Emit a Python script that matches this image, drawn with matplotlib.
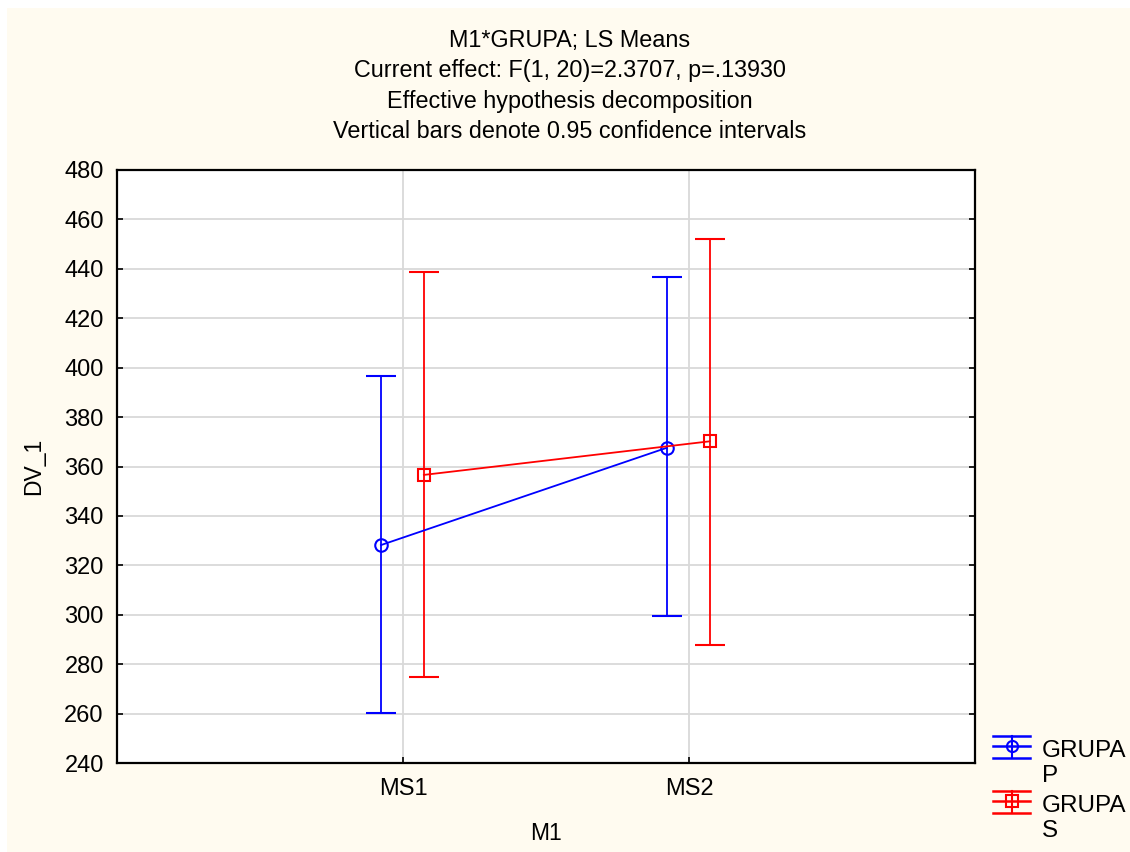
import matplotlib
matplotlib.use("Agg")
import matplotlib.pyplot as plt
from matplotlib.lines import Line2D
from matplotlib.patches import Rectangle
import numpy as np

plt.rcParams['font.family'] = ['Liberation Sans', 'DejaVu Sans']

categories = ["MS1", "MS2"]
groups = ["GRUPA\nP", "GRUPA\nS"]
colors = ["#0000ff", "#ff0000"]
markers = ["o", "s"]
means = {"P": [328.2, 367.6], "S": [356.6, 370.2]}
lower = {"P": [260.2, 299.5], "S": [274.8, 287.8]}
upper = {"P": [396.6, 436.5], "S": [438.6, 452.2]}
yticks = [240, 260, 280, 300, 320, 340, 360, 380, 400, 420, 440, 460, 480]
title_lines = ["M1*GRUPA; LS Means",
               "Current effect: F(1, 20)=2.3707, p=.13930",
               "Effective hypothesis decomposition",
               "Vertical bars denote 0.95 confidence intervals"]

W, H = 1130, 852
fig = plt.figure(figsize=(W/100, H/100), dpi=100, facecolor="white")
fig.patches.append(Rectangle((7/W, 0), 1, 1 - 8/H, transform=fig.transFigure,
                             facecolor="#fffbf0", edgecolor="none", zorder=-10))

ax = fig.add_axes([117/W, 1 - 763/H, (975-117)/W, (763-170)/H])
ax.set_facecolor("white")
x = np.arange(1, len(categories) + 1)
offsets = [-0.077, 0.073]
for key, col, mk, off in zip(["P", "S"], colors, markers, offsets):
    m = np.array(means[key]); lo = np.array(lower[key]); up = np.array(upper[key])
    ax.errorbar(x + off, m, yerr=[m - lo, up - m], color=col, ecolor=col,
                marker=mk, markersize=9, markerfacecolor="none", markeredgecolor=col,
                markeredgewidth=1.5, lw=1.3, elinewidth=1.3, capsize=10.5, capthick=1.8,
                zorder=3)

ax.set_xlim(0, 3)
ax.set_ylim(240, 480)
ax.set_xticks(x)
ax.set_xticklabels(categories)
ax.set_yticks(yticks)
ax.grid(True, color="#d9d9d9", lw=1.3, zorder=0)
ax.set_axisbelow(True)
ax.tick_params(direction="in", length=4, width=1.2, labelsize=17, right=True, top=False)
ax.tick_params(axis="y", pad=9.5)
ax.tick_params(axis="x", pad=11)
for s in ax.spines.values():
    s.set_linewidth(1.6)
    s.set_color("black")
ax.set_xlabel("M1", fontsize=16.5, labelpad=16)
ax.set_ylabel("DV_1", fontsize=16.5, labelpad=14)

for i, t in enumerate(title_lines):
    fig.text(570/W, 1 - (47 + 30.5*i)/H, t, ha="center", va="baseline", fontsize=16.8)

# legend
leg_y = [746, 801]
for ly, col, mk, lab in zip(leg_y, colors, markers, groups):
    x0, x1, xc = 993/W, 1030/W, 1012/W
    for dy in (-10.5, 0, 11.5):
        fig.lines.append(Line2D([x0, x1], [1 - (ly+dy)/H]*2, color=col, lw=1.8,
                                transform=fig.transFigure))
    fig.lines.append(Line2D([xc, xc], [1 - (ly-10.5)/H, 1 - (ly+11.5)/H], color=col, lw=1.5,
                            transform=fig.transFigure))
    fig.lines.append(Line2D([xc], [1 - ly/H], marker=mk, markersize=8, markerfacecolor="none",
                            markeredgecolor=col, markeredgewidth=1.5, transform=fig.transFigure))
    fig.text(1042/W, 1 - (ly - 6)/H, lab, ha="left", va="top", fontsize=17.5, linespacing=1.15)

fig.savefig("out.png", dpi=100, facecolor=fig.get_facecolor())
